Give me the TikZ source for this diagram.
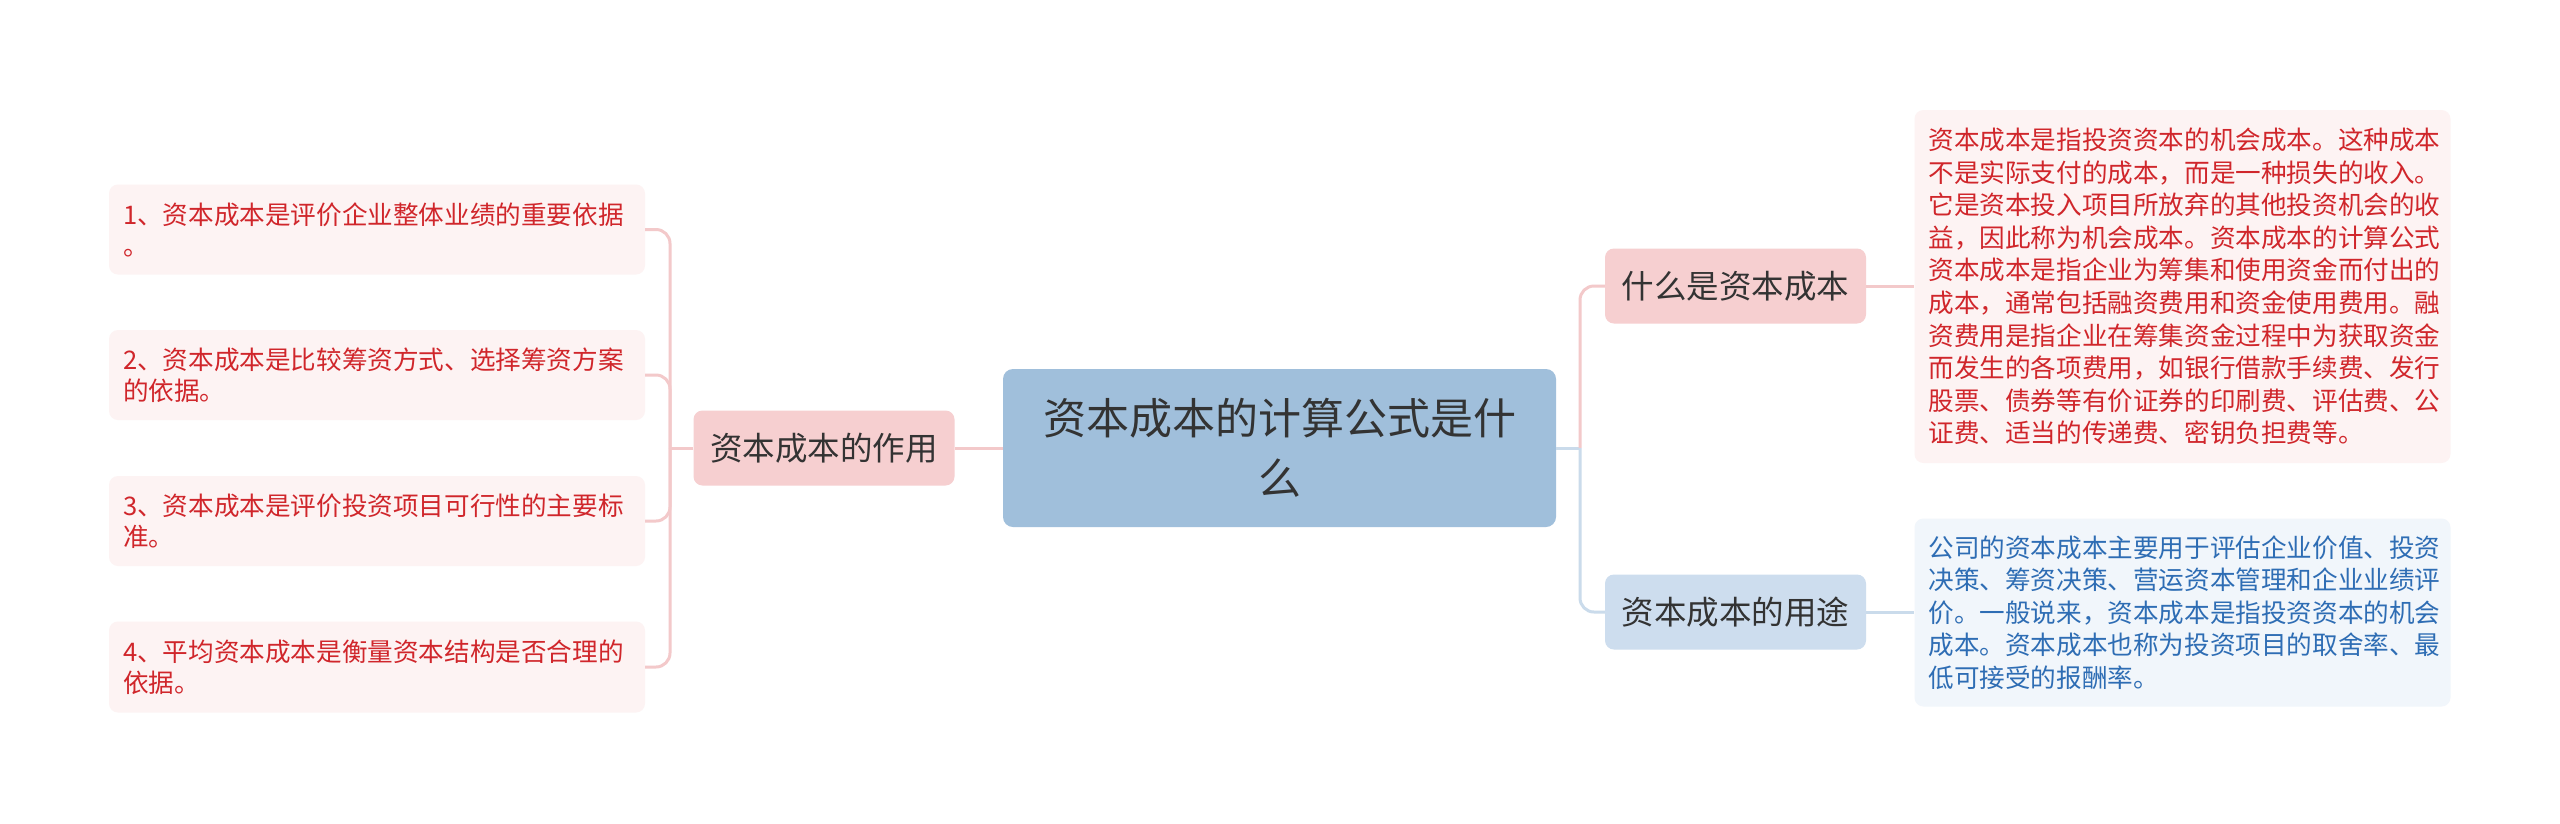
\documentclass[tikz,border=0pt]{standalone}
\usepackage{fontspec}
\setmainfont{Noto Sans CJK SC}
\definecolor{cfill}{HTML}{A0BFDB}
\definecolor{pbranch}{HTML}{F6CFD0}
\definecolor{bbranch}{HTML}{CDDDEE}
\definecolor{pleaf}{HTML}{FDF3F3}
\definecolor{bleaf}{HTML}{F1F6FB}
\definecolor{pline}{HTML}{F3C9CA}
\definecolor{bline}{HTML}{CADBEB}
\definecolor{redtext}{HTML}{D0262B}
\definecolor{bluetext}{HTML}{2E6DB4}
\definecolor{darktext}{HTML}{333333}
\begin{document}
\begin{tikzpicture}[x=1pt,y=-1pt,
  central/.style={fill=cfill, rounded corners=10pt, text=darktext,
    font=\fontsize{43pt}{60pt}\selectfont, align=center,
    minimum width=553pt, minimum height=158pt, inner sep=0pt},
  branchP/.style={fill=pbranch, rounded corners=9pt, text=darktext,
    font=\fontsize{32.5pt}{40pt}\selectfont,
    minimum width=261pt, minimum height=75pt, inner sep=0pt},
  branchB/.style={branchP, fill=bbranch},
  leafP/.style={fill=pleaf, rounded corners=9pt, text=redtext,
    font=\fontsize{25.6pt}{31pt}\selectfont, align=left,
    text width=508pt, inner xsep=14pt, inner ysep=0pt},
  leafB/.style={leafP, fill=bleaf, text=bluetext},
  plink/.style={draw=pline, line width=3pt},
  blink/.style={draw=bline, line width=3pt}
]
\useasboundingbox (0,0) rectangle (2560,823);
\fill[white] (0,0) rectangle (2560,823);

% connectors
\coordinate (bl) at (670,448);
\coordinate (br) at (1580,448);

% nodes
\node[central] (c) at (1279.5,448) {资本成本的计算公式是什\\么};
\node[branchP] (zy) at (824,448) {资本成本的作用};
\node[branchP] (sm) at (1735.5,286) {什么是资本成本};
\node[branchB] (yt) at (1735.5,612) {资本成本的用途};

\node[leafP, minimum height=90pt] (l1) at (377,229.5) {1、资本成本是评价企业整体业绩的重要依据\\。};
\node[leafP, minimum height=90pt] (l2) at (377,375) {2、资本成本是比较筹资方式、选择筹资方案\\的依据。};
\node[leafP, minimum height=90pt] (l3) at (377,521) {3、资本成本是评价投资项目可行性的主要标\\准。};
\node[leafP, minimum height=91pt] (l4) at (377,667) {4、平均资本成本是衡量资本结构是否合理的\\依据。};

\node[leafP, minimum height=353pt, font=\fontsize{25.6pt}{32.6pt}\selectfont] (r1) at (2182.5,286.5) {资本成本是指投资资本的机会成本。这种成本\\
不是实际支付的成本，而是一种损失的收入。\\
它是资本投入项目所放弃的其他投资机会的收\\
益，因此称为机会成本。资本成本的计算公式\\
资本成本是指企业为筹集和使用资金而付出的\\
成本，通常包括融资费用和资金使用费用。融\\
资费用是指企业在筹集资金过程中为获取资金\\
而发生的各项费用，如银行借款手续费、发行\\
股票、债券等有价证券的印刷费、评估费、公\\
证费、适当的传递费、密钥负担费等。};

\node[leafB, minimum height=188pt, font=\fontsize{25.6pt}{32.6pt}\selectfont] (r2) at (2182.5,612.5) {公司的资本成本主要用于评估企业价值、投资\\
决策、筹资决策、营运资本管理和企业业绩评\\
价。一般说来，资本成本是指投资资本的机会\\
成本。资本成本也称为投资项目的取舍率、最\\
低可接受的报酬率。};

% left side
\draw[plink] (zy.west) -- (bl);
\foreach \n in {l1,l2,l3,l4}
  \draw[plink, rounded corners=14pt] (bl) |- (\n.east);
\draw[plink] (zy.east) -- (c.west);

% right side
\draw[blink] (c.east) -- (br);
\draw[plink, rounded corners=14pt] (br) |- (sm.west);
\draw[blink, rounded corners=14pt] (br) |- (yt.west);
\draw[plink] (sm.east) -- (sm.east -| r1.west);
\draw[blink] (yt.east) -- (yt.east -| r2.west);
\end{tikzpicture}
\end{document}
